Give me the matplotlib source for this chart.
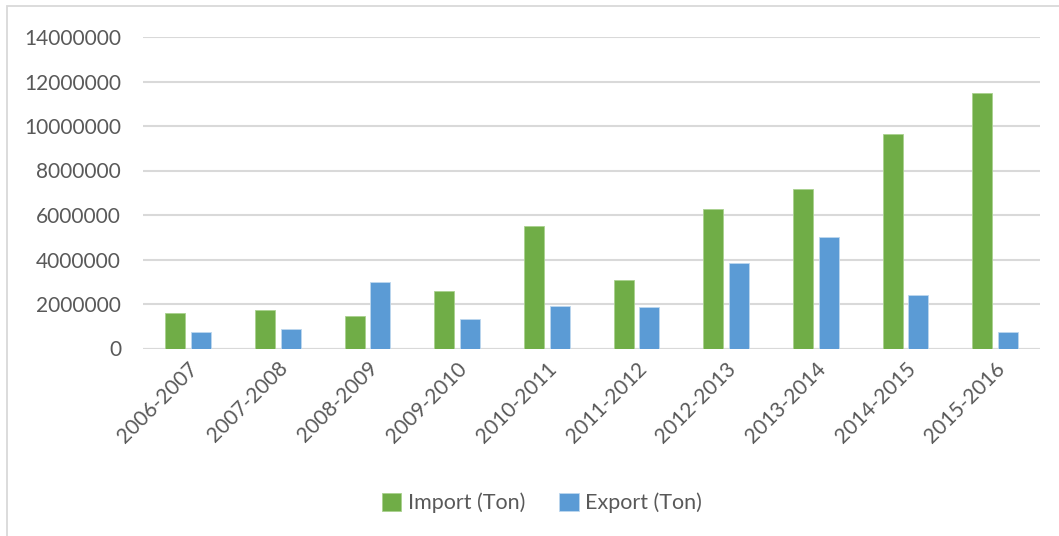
import matplotlib.pyplot as plt
import numpy as np

years = ['2006-2007', '2007-2008', '2008-2009', '2009-2010', '2010-2011',
         '2011-2012', '2012-2013', '2013-2014', '2014-2015', '2015-2016']
imports = [1610000, 1720000, 1480000, 2590000, 5520000,
           3100000, 6270000, 7180000, 9650000, 11500000]
exports = [750000, 880000, 2990000, 1330000, 1920000,
           1850000, 3850000, 5030000, 2410000, 750000]

green = '#70AD47'
blue = '#5B9BD5'
grid_c = '#D9D9D9'
text_c = '#595959'

plt.rcParams['font.family'] = ['Lato', 'DejaVu Sans']

fig = plt.figure(figsize=(10.59, 5.36), dpi=100)
ax = fig.add_axes([143.3 / 1059, 1 - 348.5 / 536, (1040 - 143.3) / 1059, (348.5 - 37) / 536])

x = np.arange(len(years))
w = 0.223
ax.bar(x - 0.142, imports, w, color=green, edgecolor='#A9D18E', linewidth=0.6,
       label='Import (Ton)', zorder=3)
ax.bar(x + 0.142, exports, w, color=blue, edgecolor='#BDD7EE', linewidth=0.6,
       label='Export (Ton)', zorder=3)

ax.set_xlim(-0.5, len(years) - 0.5)
ax.set_ylim(0, 14000000)
ax.set_yticks(np.arange(0, 14000001, 2000000))
ax.set_yticklabels([str(v) for v in range(0, 14000001, 2000000)])
ax.yaxis.grid(True, color=grid_c, linewidth=1.5, zorder=0)
ax.set_axisbelow(True)
for s in ax.spines.values():
    s.set_visible(False)
ax.tick_params(axis='both', length=0, colors=text_c, labelsize=15)
ax.tick_params(axis='y', pad=16)
ax.set_xticks(x)
ax.set_xticklabels(years, rotation=45, ha='right', rotation_mode='anchor')
ax.tick_params(axis='x', pad=7)
ax.axhline(0, color=grid_c, linewidth=1.5, zorder=1)

leg = fig.legend(loc='center', bbox_to_anchor=(542 / 1059, 1 - 503 / 536), ncol=2,
                 frameon=False, fontsize=15.5, handlelength=0.9, handleheight=0.9,
                 handletextpad=0.3, columnspacing=1.6)
for t in leg.get_texts():
    t.set_color(text_c)

border = plt.Rectangle((6.5 / 1059, -0.05), 1.1, 1 - 6.5 / 536 + 0.05,
                       transform=fig.transFigure, fill=False,
                       edgecolor=grid_c, linewidth=1.3)
fig.patches.append(border)

fig.savefig('out.png', dpi=100)
